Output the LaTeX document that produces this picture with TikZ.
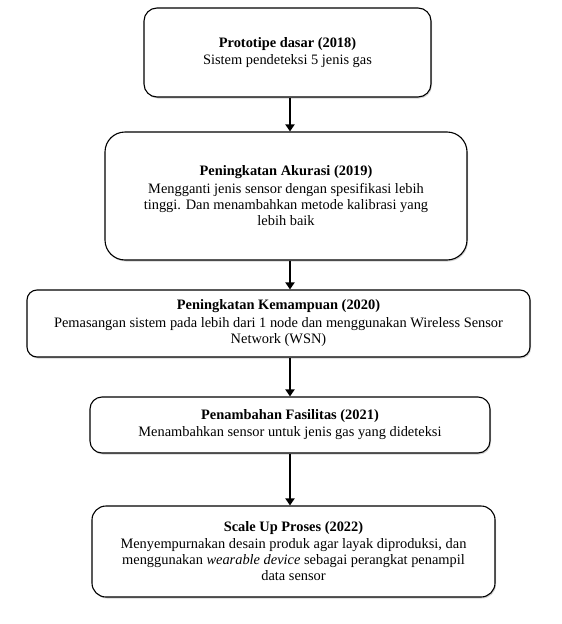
\documentclass[tikz,border=0pt]{standalone}
\usepackage{fontspec}
\setmainfont{Liberation Serif}
\usetikzlibrary{arrows.meta,shadows}
\begin{document}
\begin{tikzpicture}[x=1pt,y=-1pt,
  stage/.style={draw=black, line width=1.1pt, rounded corners=#1, fill=white,
    align=center, inner sep=0pt, font=\fontsize{14.4}{16}\selectfont,
    drop shadow={shadow xshift=1pt, shadow yshift=-1.5pt, opacity=0.35}},
  arr/.style={line width=2.6pt, -{Triangle[length=7pt,width=9pt]}}]
\useasboundingbox (0,0) rectangle (562,624);
\coordinate (ax) at (290,0);
\node[stage=13pt, minimum width=287pt, minimum height=89pt] (b1) at (287.5,52.5)
  {\textbf{Prototipe dasar (2018)}\\[1pt]Sistem pendeteksi 5 jenis gas};
\node[stage=20pt, minimum width=362pt, minimum height=128pt] (b2) at (286,196)
  {\textbf{Peningkatan Akurasi (2019)}\\[2pt]Mengganti jenis sensor dengan spesifikasi lebih\\tinggi. Dan menambahkan metode kalibrasi yang\\lebih baik};
\node[stage=10pt, minimum width=503pt, minimum height=67pt] (b3) at (278.5,323.5)
  {\textbf{Peningkatan Kemampuan (2020)}\\[2pt]Pemasangan sistem pada lebih dari 1 node dan menggunakan Wireless Sensor\\Network (WSN)};
\node[stage=12pt, minimum width=400pt, minimum height=56pt] (b4) at (290,425)
  {\textbf{Penambahan Fasilitas (2021)}\\[1pt]Menambahkan sensor untuk jenis gas yang dideteksi};
\node[stage=14pt, minimum width=403pt, minimum height=91pt] (b5) at (293.5,551.5)
  {\textbf{Scale Up Proses (2022)}\\[1pt]Menyempurnakan desain produk agar layak diproduksi, dan\\menggunakan \textit{wearable device} sebagai perangkat penampil\\data sensor};
\draw[arr] (b1.south -| ax) -- (b2.north -| ax);
\draw[arr] (b2.south -| ax) -- (b3.north -| ax);
\draw[arr] (b3.south -| ax) -- (b4.north -| ax);
\draw[arr] (b4.south -| ax) -- (b5.north -| ax);
\end{tikzpicture}
\end{document}
